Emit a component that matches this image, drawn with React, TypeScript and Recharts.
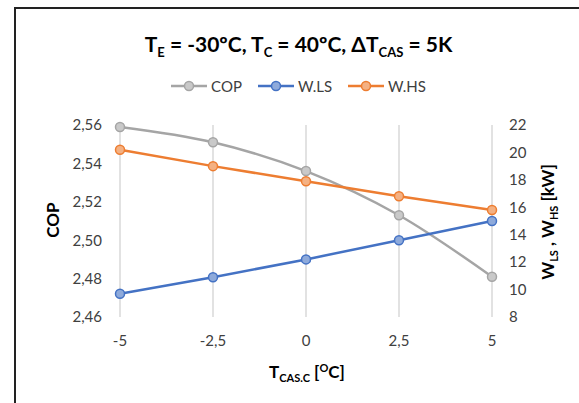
import React from 'react';
import { LineChart, Line, XAxis, YAxis, CartesianGrid } from 'recharts';

const tempValues = [-5, -2.5, 0, 2.5, 5];
const copValues = [2.559, 2.551, 2.536, 2.513, 2.481];
const wlsValues = [9.7, 10.9, 12.2, 13.6, 15.0];
const whsValues = [20.2, 19.0, 17.9, 16.8, 15.8];

const xTicks = [-5, -2.5, 0, 2.5, 5];
const copTicks = [2.46, 2.48, 2.5, 2.52, 2.54, 2.56];
const powerTicks = [8, 10, 12, 14, 16, 18, 20, 22];

const data = tempValues.map((t, i) => ({
  t,
  cop: copValues[i],
  wls: wlsValues[i],
  whs: whsValues[i],
}));

const FONT = 'Lato, "Open Sans", sans-serif';
const TEXT = '#404040';

const series = [
  { key: 'cop', name: 'COP', color: '#a5a5a5', dot: '#c9c9c9' },
  { key: 'wls', name: 'W.LS', color: '#4472c4', dot: '#8eaadb' },
  { key: 'whs', name: 'W.HS', color: '#ed7d31', dot: '#f4b183' },
];

const comma = (v: number) => String(v).replace('.', ',');

const LegendBox = () => (
  <div style={{ position: 'absolute', left: 0, top: 77, width: 597, display: 'flex', justifyContent: 'center',
    gap: 16, fontFamily: FONT, fontSize: 15, color: TEXT }}>
    {series.map((s) => (
      <div key={s.key} style={{ display: 'flex', alignItems: 'center', gap: 4 }}>
        <svg width={36} height={14}>
          <line x1={0} y1={7} x2={36} y2={7} stroke={s.color} strokeWidth={2.5} />
          <circle cx={18} cy={7} r={4.5} fill={s.dot} stroke={s.color} strokeWidth={1.5} />
        </svg>
        <span>{s.name}</span>
      </div>
    ))}
  </div>
);

const LeftLabel = () => (
  <text x={0} y={0} transform="translate(59,220) rotate(-90)" textAnchor="middle"
    fontFamily={FONT} fontSize={17} fontWeight="bold" fill="#000">COP</text>
);

const RightLabel = () => (
  <text x={0} y={0} transform="translate(554,222) rotate(-90)" textAnchor="middle"
    fontFamily={FONT} fontSize={17} fontWeight="bold" fill="#000">
    W<tspan fontSize={11} dy={4}>LS</tspan><tspan dy={-4}> , W</tspan>
    <tspan fontSize={11} dy={4}>HS</tspan><tspan dy={-4}> [kW]</tspan>
  </text>
);

const BottomLabel = () => (
  <text x={307} y={378} textAnchor="middle" fontFamily={FONT} fontSize={17} fontWeight="bold" fill="#000">
    T<tspan fontSize={11} dy={4}>CAS.C</tspan><tspan dy={-4}> [</tspan>
    <tspan fontSize={11} dy={-6}>O</tspan><tspan dy={6}>C]</tspan>
  </text>
);

export default function App() {
  return (
    <div style={{ position: 'fixed', left: 0, top: 0, width: 579, height: 403, background: '#fff', overflow: 'hidden' }}>
      <div style={{ position: 'absolute', left: 14, top: 7, right: -10, bottom: -10,
        borderLeft: '2px solid #222', borderTop: '2px solid #222' }} />
      <div style={{ position: 'absolute', left: 0, top: 31, width: 597, textAlign: 'center',
        fontFamily: FONT, fontWeight: 'bold', fontSize: 21, color: '#000' }}>
        T<sub style={{ fontSize: 13 }}>E</sub> = -30ºC, T<sub style={{ fontSize: 13 }}>C</sub> = 40ºC, ΔT<sub style={{ fontSize: 13 }}>CAS</sub> = 5K
      </div>
      <LegendBox />
      <LineChart width={579} height={403} data={data}
        margin={{ top: 125, right: 17, bottom: 26, left: 20 }}
        style={{ position: 'absolute', left: 0, top: 0 }}>
        <CartesianGrid horizontal={false} stroke="#d9d9d9" strokeWidth={1.5} />
        <XAxis dataKey="t" type="number" domain={[-5, 5]} ticks={xTicks} tickFormatter={comma}
          axisLine={false} tickLine={false} tickSize={0} tickMargin={18} height={60}
          tick={{ fill: TEXT, fontSize: 15, fontFamily: FONT }}
          label={{ content: () => <BottomLabel /> }} />
        <YAxis yAxisId="cop" domain={[2.46, 2.56]} ticks={copTicks} width={100}
          tickFormatter={(v: number) => v.toFixed(2).replace('.', ',')}
          axisLine={false} tickLine={false} tickSize={0} tickMargin={18}
          tick={{ fill: TEXT, fontSize: 15, fontFamily: FONT }}
          label={{ content: () => <LeftLabel /> }} />
        <YAxis yAxisId="w" orientation="right" domain={[8, 22]} ticks={powerTicks} width={70}
          axisLine={false} tickLine={false} tickSize={0} tickMargin={17}
          tick={{ fill: TEXT, fontSize: 15, fontFamily: FONT }}
          label={{ content: () => <RightLabel /> }} />
        <Line yAxisId="cop" type="monotone" dataKey="cop" name="COP" stroke={series[0].color} strokeWidth={2.5}
          dot={{ r: 4.5, fill: series[0].dot, stroke: series[0].color, strokeWidth: 1.5 }} isAnimationActive={false} />
        <Line yAxisId="w" type="linear" dataKey="wls" name="W.LS" stroke={series[1].color} strokeWidth={2.5}
          dot={{ r: 4.5, fill: series[1].dot, stroke: series[1].color, strokeWidth: 1.5 }} isAnimationActive={false} />
        <Line yAxisId="w" type="linear" dataKey="whs" name="W.HS" stroke={series[2].color} strokeWidth={2.5}
          dot={{ r: 4.5, fill: series[2].dot, stroke: series[2].color, strokeWidth: 1.5 }} isAnimationActive={false} />
      </LineChart>
    </div>
  );
}
